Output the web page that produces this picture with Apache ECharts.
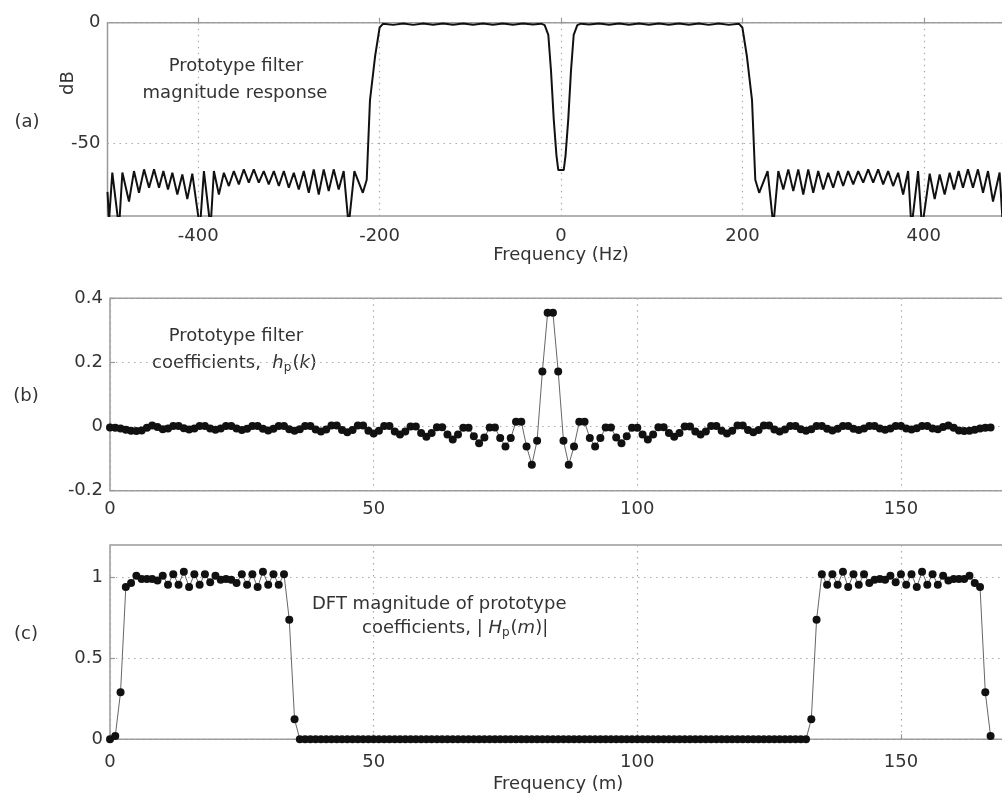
<!DOCTYPE html>
<html><head><meta charset="utf-8">
<script src="https://cdn.jsdelivr.net/npm/echarts@6/dist/echarts.min.js"></script>
<style>html,body{margin:0;padding:0;background:#fff;}#c{width:1002px;height:796px;}</style>
</head><body><div id="c"></div>
<script>
// (a) Prototype filter magnitude response: [frequency Hz, dB]
const responseA = [
 [-500,-70],[-498.3,-82],[-494.7,-62],[-487.3,-85],[-483.6,-62],[-476.3,-74],[-470.8,-61.4],[-465.3,-70.4],
 [-459.7,-60.7],[-454.2,-68.3],[-448.7,-60.7],[-443.2,-68.3],[-438.4,-61.4],[-433.3,-69],[-428.5,-62.1],
 [-423,-71.1],[-417.5,-62.8],[-412,-73],[-406.5,-62.5],[-398.1,-85],[-393.7,-61.4],[-386.4,-85],[-382.7,-61.4],
 [-377.2,-71.1],[-371.7,-62.1],[-366.2,-67.6],[-360.7,-61.4],[-355.2,-66.9],[-349.7,-60.7],[-344.2,-66.2],
 [-338.7,-60.7],[-333.2,-66.2],[-327.7,-61.4],[-322.2,-66.9],[-316.6,-61.4],[-311.1,-67.6],[-305.6,-61.4],
 [-300.1,-68.3],[-294.6,-62.1],[-289.1,-69],[-283.6,-61.4],[-278.1,-70.4],[-272.6,-60.7],[-267.1,-71.1],
 [-261.6,-60.7],[-256.1,-69.7],[-250.6,-60.7],[-245.1,-69],[-239.6,-61.4],[-234.1,-84],[-227.8,-61.4],
 [-218.5,-70.4],[-214.2,-65],[-210.6,-32],[-205,-14],[-200,-2],[-196,-0.4],[-185,-0.9],[-174,-0.3],
 [-163,-0.9],[-152,-0.3],[-141,-0.8],[-130,-0.3],[-119,-0.8],[-108,-0.3],[-97,-0.8],[-86,-0.3],[-75,-0.8],
 [-64,-0.3],[-53,-0.8],[-42,-0.3],[-31,-0.7],[-22,-0.4],[-18,-1],[-14,-5],[-11,-20],[-8,-40],[-5,-55],[-3,-61],
 [3,-61],[5,-55],[8,-40],[11,-20],[14,-5],[18,-1],[22,-0.4],[31,-0.7],[42,-0.3],[53,-0.8],[64,-0.3],[75,-0.8],
 [86,-0.3],[97,-0.8],[108,-0.3],[119,-0.8],[130,-0.3],[141,-0.8],[152,-0.3],[163,-0.9],[174,-0.3],[185,-0.9],
 [196,-0.4],[200,-2],[205,-14],[210.6,-32],[214.2,-65],[218.5,-70.4],[227.8,-61.4],[234.1,-84],[239.6,-61.4],
 [245.1,-69],[250.6,-60.7],[256.1,-69.7],[261.6,-60.7],[267.1,-71.1],[272.6,-60.7],[278.1,-70.4],[283.6,-61.4],
 [289.1,-69],[294.6,-62.1],[300.1,-68.3],[305.6,-61.4],[311.1,-67.6],[316.6,-61.4],[322.2,-66.9],[327.7,-61.4],
 [333.2,-66.2],[338.7,-60.7],[344.2,-66.2],[349.7,-60.7],[355.2,-66.9],[360.7,-61.4],[366.2,-67.6],[371.7,-62.1],
 [377.2,-71.1],[382.7,-61.4],[386.4,-85],[393.7,-61.4],[398.1,-85],[406.5,-62.5],[412,-73],[417.5,-62.8],
 [423,-71.1],[428.5,-62.1],[433.3,-69],[438.4,-61.4],[443.2,-68.3],[448.7,-60.7],[454.2,-68.3],[459.7,-60.7],
 [465.3,-70.4],[470.8,-61.4],[476.3,-74],[483.6,-62],[487.3,-85],[494.7,-62],[498.3,-82],[500,-70]
];

// (b) Prototype filter coefficients h_p(k), k = 0..167
const coeffB = [
 -0.003,-0.004,-0.006,-0.010,-0.013,-0.014,-0.012,-0.004,0.003,-0.001,
 -0.008,-0.006,0.002,0.002,-0.005,-0.009,-0.006,0.002,0.002,-0.006,
 -0.010,-0.006,0.002,0.002,-0.006,-0.011,-0.007,0.002,0.002,-0.007,
 -0.012,-0.007,0.002,0.002,-0.008,-0.013,-0.008,0.002,0.002,-0.009,
 -0.015,-0.009,0.003,0.003,-0.011,-0.018,-0.011,0.003,0.003,-0.013,
 -0.022,-0.013,0.002,0.002,-0.015,-0.025,-0.015,0.000,0.000,-0.020,
 -0.032,-0.020,-0.002,-0.002,-0.025,-0.040,-0.025,-0.004,-0.004,-0.030,
 -0.052,-0.034,-0.003,-0.003,-0.036,-0.062,-0.036,0.015,0.015,-0.062,
 -0.119,-0.044,0.172,0.355,
 0.355,0.172,-0.044,-0.119,
 -0.062,0.015,0.015,-0.036,-0.062,-0.036,-0.003,-0.003,-0.034,-0.052,
 -0.030,-0.004,-0.004,-0.025,-0.040,-0.025,-0.002,-0.002,-0.020,-0.032,
 -0.020,0.000,0.000,-0.015,-0.025,-0.015,0.002,0.002,-0.013,-0.022,
 -0.013,0.003,0.003,-0.011,-0.018,-0.011,0.003,0.003,-0.009,-0.015,
 -0.009,0.002,0.002,-0.008,-0.013,-0.008,0.002,0.002,-0.007,-0.012,
 -0.007,0.002,0.002,-0.007,-0.011,-0.006,0.002,0.002,-0.006,-0.010,
 -0.006,0.002,0.002,-0.006,-0.009,-0.005,0.002,0.002,-0.006,-0.008,
 -0.001,0.003,-0.004,-0.012,-0.014,-0.013,-0.010,-0.006,-0.004,-0.003
];

// (c) DFT magnitude |H_p(m)|, m = 0..167
const dftC = [
 0.0,0.02,0.29,0.94,0.965,1.01,0.99,0.99,0.99,0.98,
 1.01,0.955,1.02,0.955,1.035,0.94,1.02,0.955,1.02,0.97,
 1.01,0.985,0.99,0.985,0.965,1.02,0.955,1.02,0.94,1.035,
 0.955,1.02,0.955,1.02,0.738,0.124,
 0,0,0,0,0,0,0,0,0,0,
 0,0,0,0,0,0,0,0,0,0,
 0,0,0,0,0,0,0,0,0,0,
 0,0,0,0,0,0,0,0,0,0,
 0,0,0,0,0,0,0,0,0,0,
 0,0,0,0,0,0,0,0,0,0,
 0,0,0,0,0,0,0,0,0,0,
 0,0,0,0,0,0,0,0,0,0,
 0,0,0,0,0,0,0,0,0,0,
 0,0,0,0,0,0,0,
 0.124,0.738,1.02,0.955,1.02,0.955,1.035,
 0.94,1.02,0.955,1.02,0.965,0.985,0.99,0.985,1.01,0.97,
 1.02,0.955,1.02,0.94,1.035,0.955,1.02,0.955,1.01,0.98,
 0.99,0.99,0.99,1.01,0.965,0.94,0.29,0.02
];

const ticksAx = [-400,-200,0,200,400];
const ticksAy = [-50,0];
const ticksBCx = [0,50,100,150];
const ticksBy = [-0.2,0,0.2,0.4];
const ticksCy = [0,0.5,1];

const FONT = 'DejaVu Sans';
const TXT = '#333';
const AXC = '#999';
const FS = 18;

function xAx(grid, min, max, ticks, margin, name, nameGap){
  return {
    gridIndex: grid, type: 'value', min: min, max: max,
    name: name || '', nameLocation: 'middle', nameGap: nameGap || 0,
    nameTextStyle: {fontFamily: FONT, fontSize: FS, color: TXT},
    axisLine: {show: false},
    axisTick: {show: true, inside: true, length: 5, customValues: ticks, lineStyle: {color: AXC, width: 1.2}},
    axisLabel: {customValues: ticks, margin: margin, fontFamily: FONT, fontSize: FS, color: TXT},
    splitLine: {show: true, lineStyle: {type: [1.5, 4.5], color: '#aaa', width: 1.2}}
  };
}
function yAx(grid, min, max, ticks){
  return {
    gridIndex: grid, type: 'value', min: min, max: max,
    axisLine: {show: false},
    axisTick: {show: true, inside: true, length: 5, customValues: ticks, lineStyle: {color: AXC, width: 1.2}},
    axisLabel: {customValues: ticks, margin: 7, fontFamily: FONT, fontSize: FS, color: TXT},
    splitLine: {show: true, lineStyle: {type: [1.5, 4.5], color: '#aaa', width: 1.2}}
  };
}
const gridBase = {show: true, borderColor: AXC, borderWidth: 1.5, backgroundColor: 'transparent', containLabel: false, outerBoundsMode: 'none'};

const option = {
  animation: false,
  backgroundColor: '#fff',
  grid: [
    Object.assign({left: 107.5, top: 22.7, right: -12.5, height: 193.3}, gridBase),
    Object.assign({left: 110, top: 298.3, right: -4.4, height: 192.4}, gridBase),
    Object.assign({left: 110, top: 545, right: -4.4, height: 194.3}, gridBase)
  ],
  xAxis: [
    xAx(0, -500, 500, ticksAx, 11, 'Frequency (Hz)', 26),
    xAx(1, 0, 170, ticksBCx, 10),
    xAx(2, 0, 170, ticksBCx, 14, 'Frequency (m)', 36)
  ],
  yAxis: [
    yAx(0, -80, 0, ticksAy),
    yAx(1, -0.2, 0.4, ticksBy),
    yAx(2, 0, 1.2, ticksCy)
  ],
  series: [
    {type: 'line', xAxisIndex: 0, yAxisIndex: 0, data: responseA, showSymbol: false, symbol: 'none',
     clip: true, lineStyle: {color: '#111', width: 2}},
    {type: 'line', xAxisIndex: 1, yAxisIndex: 1, data: coeffB.map((v, k) => [k, v]),
     symbol: 'circle', symbolSize: 8, showSymbol: true, clip: true,
     itemStyle: {color: '#111'}, lineStyle: {color: '#666', width: 1}},
    {type: 'line', xAxisIndex: 2, yAxisIndex: 2, data: dftC.map((v, m) => [m, v]),
     symbol: 'circle', symbolSize: 8, showSymbol: true, clip: false,
     itemStyle: {color: '#111'}, lineStyle: {color: '#666', width: 1}}
  ],
  graphic: [
    {type: 'text', x: 27, y: 122, style: {text: '(a)', font: FS + 'px "' + FONT + '"', fill: TXT, textAlign: 'center', textVerticalAlign: 'middle'}},
    {type: 'text', x: 26, y: 396, style: {text: '(b)', font: FS + 'px "' + FONT + '"', fill: TXT, textAlign: 'center', textVerticalAlign: 'middle'}},
    {type: 'text', x: 26, y: 634, style: {text: '(c)', font: FS + 'px "' + FONT + '"', fill: TXT, textAlign: 'center', textVerticalAlign: 'middle'}},
    {type: 'text', x: 68, y: 83, rotation: Math.PI / 2, style: {text: 'dB', font: FS + 'px "' + FONT + '"', fill: TXT, textAlign: 'center', textVerticalAlign: 'middle'}},
    {type: 'text', x: 236, y: 66, style: {text: 'Prototype filter', font: FS + 'px "' + FONT + '"', fill: TXT, textAlign: 'center', textVerticalAlign: 'middle'}},
    {type: 'text', x: 235, y: 93, style: {text: 'magnitude response', font: FS + 'px "' + FONT + '"', fill: TXT, textAlign: 'center', textVerticalAlign: 'middle'}},
    {type: 'text', x: 236, y: 336, style: {text: 'Prototype filter', font: FS + 'px "' + FONT + '"', fill: TXT, textAlign: 'center', textVerticalAlign: 'middle'}},
    {type: 'text', x: 152, y: 363, style: {
      text: '{n|coefficients,  }{i|h}{s|p}{n|(}{i|k}{n|)}', fill: TXT, textAlign: 'left', textVerticalAlign: 'middle',
      rich: {n: {font: FS + 'px "' + FONT + '"'}, i: {font: 'italic ' + FS + 'px "' + FONT + '"'}, s: {font: '12px "' + FONT + '"', padding: [10, 1, 0, 0]}}}},
    {type: 'text', x: 312, y: 604, style: {text: 'DFT magnitude of prototype', font: FS + 'px "' + FONT + '"', fill: TXT, textAlign: 'left', textVerticalAlign: 'middle'}},
    {type: 'text', x: 362, y: 628, style: {
      text: '{n|coefficients, | }{i|H}{s|p}{n|(}{i|m}{n|)|}', fill: TXT, textAlign: 'left', textVerticalAlign: 'middle',
      rich: {n: {font: FS + 'px "' + FONT + '"'}, i: {font: 'italic ' + FS + 'px "' + FONT + '"'}, s: {font: '12px "' + FONT + '"', padding: [10, 1, 0, 0]}}}}
  ]
};
const chart = echarts.init(document.getElementById('c'), null, {renderer: 'canvas'});
chart.setOption(option);
</script>
</body></html>
